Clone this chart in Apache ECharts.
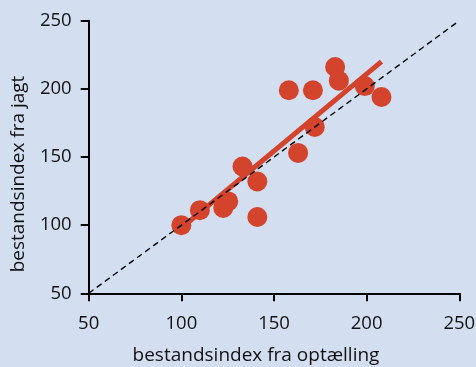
<!DOCTYPE html>
<html>
<head>
<meta charset="utf-8">
<script src="https://cdn.jsdelivr.net/npm/echarts@6/dist/echarts.min.js"></script>
<style>
html,body{margin:0;padding:0;background:#d3dff0;}
#c{width:476px;height:367px;}
</style>
</head>
<body>
<div id="c"></div>
<script>
var countIndex = [100, 110, 122.6, 125.3, 133, 141, 141, 163, 172, 158, 171, 183, 185, 199, 208];
var huntIndex  = [100, 111, 112.6, 117.4, 143, 132, 106, 153, 172, 199, 199, 216, 206, 202, 194];
var fitLine = [[101, 99], [208, 220]];
var identityLine = [[50, 50], [250, 250]];
var ticks = [50, 100, 150, 200, 250];

var points = countIndex.map(function (x, i) { return [x, huntIndex[i]]; });
var red = '#d4432c';
var font = 'Open Sans';

var axisCommon = {
  min: ticks[0], max: ticks[ticks.length - 1], interval: ticks[1] - ticks[0],
  splitLine: { show: false },
  axisLine: { show: true, onZero: false, lineStyle: { color: '#000', width: 2 } },
  axisTick: { show: true, inside: false, length: 8, lineStyle: { color: '#000', width: 2 } },
  nameLocation: 'middle'
};

var chart = echarts.init(document.getElementById('c'));
chart.setOption({
  backgroundColor: '#d3dff0',
  animation: false,
  grid: { left: 88.7, right: 16.7, top: 20.7, bottom: 73.7, containLabel: false, outerBoundsMode: 'none' },
  xAxis: Object.assign({}, axisCommon, {
    type: 'value',
    name: 'bestandsindex fra optælling',
    nameGap: 53,
    nameTextStyle: { fontFamily: font, fontSize: 19, color: '#111', padding: [0, 36, 0, 0] },
    axisLabel: { margin: 21, fontFamily: font, fontSize: 18.5, color: '#111' }
  }),
  yAxis: Object.assign({}, axisCommon, {
    type: 'value',
    name: 'bestandsindex fra jagt',
    nameGap: 61,
    nameTextStyle: { fontFamily: font, fontSize: 19, color: '#111', padding: [0, 34, 0, 0] },
    axisLabel: { margin: 17, fontFamily: font, fontSize: 18.5, color: '#111' }
  }),
  series: [
    {
      type: 'line', data: fitLine, symbol: 'none', z: 1,
      lineStyle: { color: red, width: 5, cap: 'butt' }
    },
    {
      type: 'scatter', data: points, symbolSize: 20, z: 2,
      itemStyle: { color: red, opacity: 1 }
    },
    {
      type: 'line', data: identityLine, symbol: 'none', z: 3,
      lineStyle: { color: '#000', width: 1.4, type: [6, 4] }
    }
  ]
});
</script>
</body>
</html>
